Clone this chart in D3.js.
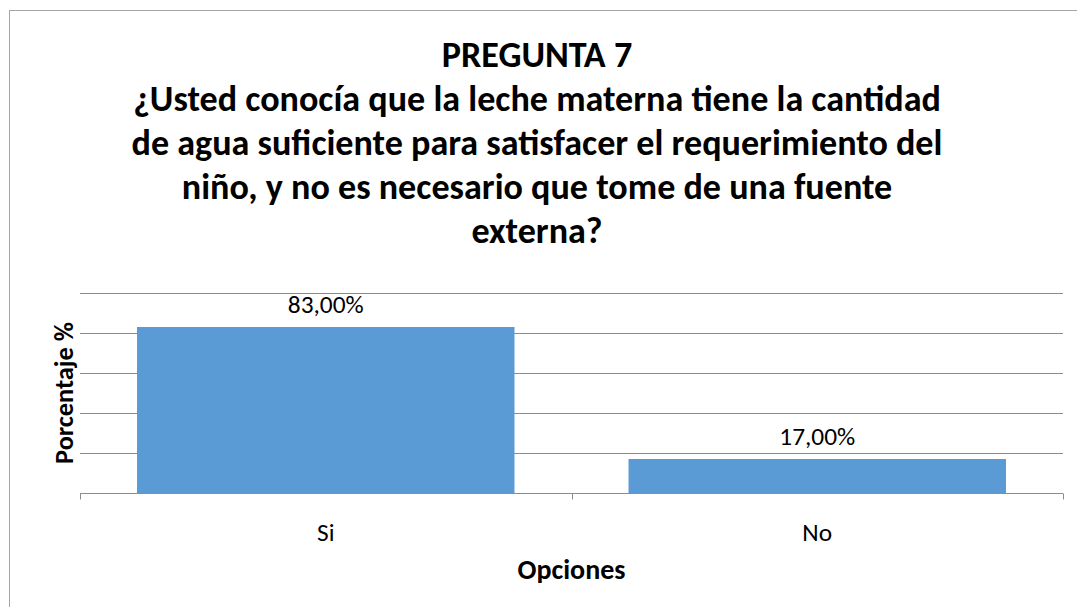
<!DOCTYPE html>
<html><head><meta charset="utf-8">
<script src="https://cdn.jsdelivr.net/npm/d3@7"></script>
<style>body{margin:0;background:#fff;} svg{display:block;}</style>
</head><body>
<script>
const categories = ["Si", "No"];
const values = [83, 17];
const valueLabels = ["83,00%", "17,00%"];
const yTicks = [0, 20, 40, 60, 80, 100];
const titleLines = ["PREGUNTA 7",
  "¿Usted conocía que la leche materna tiene la cantidad",
  "de agua suficiente para satisfacer el requerimiento del",
  "niño, y no es necesario que tome de una fuente",
  "externa?"];
const xTitle = "Opciones";
const yTitle = "Porcentaje %";

const W = 1077, H = 607;
const FONT = "Carlito, Calibri, Lato, 'Open Sans', sans-serif";
const svg = d3.select("body").append("svg").attr("width", W).attr("height", H);
svg.append("rect").attr("width", W).attr("height", H).attr("fill", "#fff");
svg.append("rect").attr("x", 9.5).attr("y", 10.5).attr("width", W + 10).attr("height", H + 10)
  .attr("fill", "none").attr("stroke", "#a6a6a6").attr("stroke-width", 1);

function fitWidth(sel, base, target) {
  sel.attr("font-size", base);
  const w = sel.node().getComputedTextLength();
  const fs = base * target / w;
  sel.attr("font-size", fs);
  return fs;
}

const plot = {left: 80, right: 1063, top: 293, bottom: 493};
const x = d3.scaleBand().domain(categories).range([plot.left, plot.right]).paddingInner(0.232).paddingOuter(0.116);
const y = d3.scaleLinear().domain([0, 100]).range([plot.bottom, plot.top]);

// gridlines
svg.append("g").selectAll("line").data(yTicks.slice(1)).join("line")
  .attr("x1", plot.left).attr("x2", plot.right)
  .attr("y1", d => Math.round(y(d)) + 0.5).attr("y2", d => Math.round(y(d)) + 0.5)
  .attr("stroke", "#8c8c8c").attr("stroke-width", 1);

// bars
svg.append("g").selectAll("rect").data(values).join("rect")
  .attr("x", (d, i) => x(categories[i])).attr("width", x.bandwidth())
  .attr("y", d => y(d)).attr("height", d => y(0) - y(d))
  .attr("fill", "#5b9bd5");

// value labels (size fitted to the reference label width)
const vl = svg.append("g").selectAll("text").data(values).join("text")
  .attr("x", (d, i) => x(categories[i]) + x.bandwidth() / 2).attr("y", d => y(d) - 14)
  .attr("text-anchor", "middle").attr("font-family", FONT).attr("fill", "#000")
  .text((d, i) => valueLabels[i]);
const labelFs = fitWidth(d3.select(vl.nodes()[0]), 20, 76);
vl.attr("font-size", labelFs);

// x axis
const xAxisG = svg.append("g").attr("transform", `translate(0,${Math.round(y(0)) + 0.5})`);
xAxisG.append("line").attr("x1", plot.left).attr("x2", plot.right).attr("stroke", "#8c8c8c");
const bounds = [plot.left, (plot.left + plot.right) / 2, plot.right];
xAxisG.selectAll("line.tk").data(bounds).join("line").attr("class", "tk")
  .attr("x1", d => Math.round(d) + 0.5).attr("x2", d => Math.round(d) + 0.5)
  .attr("y1", 0).attr("y2", 6).attr("stroke", "#8c8c8c");
xAxisG.selectAll("text").data(categories).join("text")
  .attr("x", d => x(d) + x.bandwidth() / 2).attr("y", 47)
  .attr("text-anchor", "middle").attr("font-family", FONT).attr("font-size", labelFs).attr("fill", "#000")
  .text(d => d);

// axis titles
const xt = svg.append("text").attr("x", (plot.left + plot.right) / 2).attr("y", 579)
  .attr("text-anchor", "middle").attr("font-family", FONT).attr("font-weight", "bold")
  .text(xTitle);
fitWidth(xt, 20, 108);
const yt = svg.append("text").attr("transform", `translate(73,${(plot.top + plot.bottom) / 2}) rotate(-90)`)
  .attr("text-anchor", "middle").attr("font-family", FONT).attr("font-weight", "bold")
  .text(yTitle);
fitWidth(yt, 20, 142);

// title
const baselines = [67, 111, 155, 199, 243];
const tt = svg.append("g").selectAll("text").data(titleLines).join("text")
  .attr("x", 537).attr("y", (d, i) => baselines[i])
  .attr("text-anchor", "middle").attr("font-family", FONT).attr("font-size", 28).attr("font-weight", "bold")
  .text(d => d);
const w = tt.nodes()[1].getComputedTextLength();
tt.attr("font-size", 28 * 808 / w);
</script>
</body></html>
